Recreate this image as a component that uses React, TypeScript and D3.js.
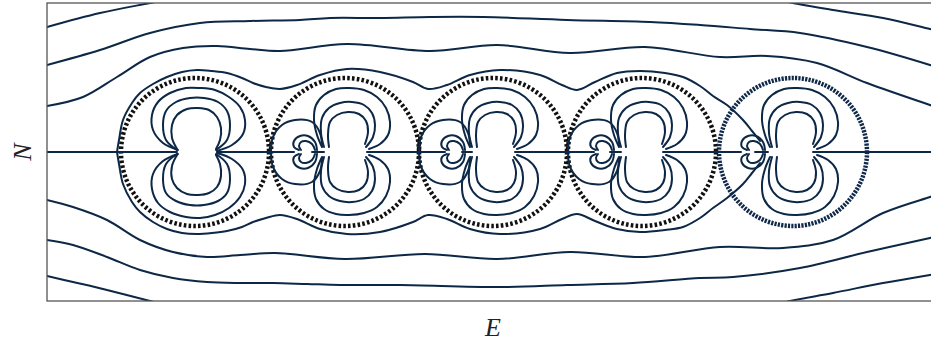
import React from "react";
import * as d3 from "d3";

type Pt = [number, number];

// Sphere centres along the E axis and their radius (same units as E/N)
const sphereCenters = [-298, -148, 0, 149, 300];
const sphereRadius = 74;

// Field lines outside the spheres, [E, N]
const fieldTop1: Pt[] = [[-446, 125], [-393, 139], [-343, 149], [-323, 153]];
const fieldTop2: Pt[] = [
  [-446, 87], [-393, 102], [-343, 119], [-293, 129], [-243, 131], [-193, 132], [-163, 134],
  [-113, 134], [-63, 135], [-10, 135], [74, 132], [157, 130], [207, 127], [257, 123],
  [307, 119], [374, 105], [437, 87], [446, 84],
];
const fieldTop3: Pt[] = [
  [-446, 46], [-410, 55], [-376, 75], [-343, 95], [-310, 104], [-276, 106], [-243, 103],
  [-213, 101], [-146, 108], [-63, 101], [4, 107], [77, 99], [152, 105], [227, 95],
  [274, 96], [324, 89], [374, 69], [437, 47], [446, 44],
];
const separatrixTop: Pt[] = [
  [-376, 0], [-374, 12], [-370, 32], [-361, 49], [-353, 59], [-340, 68], [-326, 75],
  [-311, 80], [-296, 82], [-281, 81], [-266, 79], [-251, 74], [-240, 69], [-227, 65],
  [-213, 63], [-196, 67], [-173, 77], [-146, 83], [-113, 80], [-80, 70], [-65, 63],
  [-46, 67], [-23, 77], [7, 82], [47, 77], [69, 67], [84, 62], [102, 70], [124, 79],
  [147, 81], [172, 79], [190, 75], [207, 66], [220, 56], [234, 47], [250, 32],
  [259, 21], [267, 11],
];
const separatrixBottom: Pt[] = [
  [-376, 0], [-374, -12], [-370, -32], [-361, -50], [-353, -60], [-340, -70], [-326, -77],
  [-311, -81], [-296, -82], [-281, -81], [-266, -79], [-251, -75], [-240, -70], [-227, -66],
  [-213, -63], [-196, -67], [-173, -77], [-146, -82], [-113, -80], [-80, -70], [-65, -63],
  [-46, -67], [-23, -77], [7, -82], [47, -77], [69, -67], [84, -62], [102, -69], [124, -77],
  [147, -80], [172, -78], [190, -75], [207, -66], [220, -56], [234, -46], [250, -32],
  [259, -21], [267, -11],
];
const fieldBottom4: Pt[] = [
  [-446, -48], [-420, -55], [-386, -68], [-353, -88], [-320, -100], [-286, -105],
  [-253, -103], [-218, -101], [-148, -107], [-68, -102], [4, -107], [77, -100],
  [152, -105], [227, -95], [290, -96], [340, -88], [390, -61], [437, -45], [446, -42],
];
const fieldBottom5: Pt[] = [
  [-446, -88], [-420, -93], [-386, -105], [-353, -118], [-320, -126], [-286, -130],
  [-253, -131], [-220, -131], [-186, -132], [-153, -133], [-93, -133], [7, -135],
  [74, -133], [140, -131], [207, -126], [240, -125], [307, -116], [374, -100],
  [437, -86], [446, -84],
];
const fieldBottom6: Pt[] = [[-446, -124], [-420, -130], [-386, -138], [-343, -149], [-328, -153]];
const fieldTopRight: Pt[] = [[287, 152], [300, 149], [340, 142], [390, 134], [437, 123], [446, 121]];
const fieldBottomRight: Pt[] = [[282, -153], [297, -149], [340, -141], [390, -131], [437, -123], [446, -121]];

// Pieces of the N = 0 axis line that are drawn
const axisPieces: Pt[] = [
  [-446, -316], [-276, -199], [-181, -169], [-126, -48], [-31, -21],
  [22, 101], [117, 128], [170, 248], [262, 275], [320, 446],
];

// First sphere: symmetric dipole lobes, [E, N]
const firstInnerUp: Pt[] = [
  [-316, 3], [-321, 14], [-321, 27], [-316, 37], [-306, 43], [-295, 44], [-284, 42],
  [-276, 35], [-272, 24], [-273, 12], [-277, 3],
];
const firstMidUp: Pt[] = [
  [-316, 2], [-327, 12], [-330, 27], [-327, 41], [-317, 50], [-303, 54], [-289, 54],
  [-275, 50], [-266, 41], [-263, 27], [-266, 12], [-277, 2],
];
const firstOuterUp: Pt[] = [
  [-315, 2], [-330, 9], [-340, 22], [-341, 37], [-335, 50], [-323, 59], [-307, 64],
  [-293, 64], [-278, 62], [-264, 55], [-253, 45], [-248, 32], [-250, 18], [-261, 7], [-276, 1],
];
const firstInnerDown: Pt[] = [
  [-316, -3], [-321, -14], [-321, -27], [-316, -36], [-306, -42], [-295, -43], [-284, -41],
  [-276, -35], [-272, -24], [-273, -12], [-277, -3],
];
const firstMidDown: Pt[] = [
  [-316, -2], [-327, -12], [-330, -27], [-327, -41], [-317, -49], [-303, -53], [-289, -53],
  [-275, -49], [-266, -41], [-263, -27], [-266, -12], [-277, -2],
];
const firstOuterDown: Pt[] = [
  [-315, -2], [-330, -9], [-340, -22], [-341, -37], [-335, -51], [-323, -60], [-307, -65],
  [-293, -66], [-278, -63], [-264, -56], [-253, -45], [-248, -32], [-250, -18], [-261, -7], [-276, -1],
];

// Other spheres: lobes relative to the sphere centre, [dE, N]
const lobeOuterUp: Pt[] = [
  [-23, 5], [-28, 17], [-31, 32], [-29, 47], [-21, 57], [-9, 63], [4, 64], [19, 62],
  [32, 55], [41, 44], [45, 30], [43, 17], [35, 8], [24, 3],
];
const lobeMidUp: Pt[] = [
  [-21, 5], [-24, 19], [-23, 34], [-16, 44], [-5, 49], [7, 50], [19, 47], [27, 39],
  [30, 27], [28, 15], [21, 5],
];
const lobeInnerUp: Pt[] = [
  [-16, 5], [-17, 17], [-15, 30], [-8, 37], [3, 40], [14, 38], [21, 31], [23, 20], [20, 8],
];
const lobeOuterDown: Pt[] = [
  [-23, -5], [-28, -17], [-31, -32], [-29, -47], [-21, -57], [-9, -62], [4, -63], [19, -61],
  [32, -55], [41, -44], [45, -30], [43, -17], [35, -8], [24, -3],
];
const lobeMidDown: Pt[] = [
  [-21, -5], [-24, -19], [-23, -34], [-16, -44], [-5, -49], [7, -50], [19, -47], [27, -39],
  [30, -27], [28, -15], [21, -5],
];
const lobeInnerDown: Pt[] = [
  [-16, -5], [-17, -17], [-15, -30], [-8, -37], [3, -40], [14, -38], [21, -31], [23, -20], [20, -8],
];
const leftLoopUp: Pt[] = [[-74, 0], [-72, 15], [-63, 27], [-50, 32], [-33, 30], [-25, 19], [-23, 6]];
const leftLoopDown: Pt[] = [[-74, 0], [-72, -15], [-63, -27], [-50, -32], [-33, -30], [-25, -19], [-23, -6]];
const smallOuterUp: Pt[] = [[-28, 2], [-30, 10], [-37, 16], [-45, 16], [-51, 11], [-51, 5], [-46, 2]];
const smallInnerUp: Pt[] = [[-30, 2], [-33, 8], [-39, 11], [-44, 10], [-46, 6], [-44, 2]];
const smallOuterDown: Pt[] = [[-28, -2], [-30, -10], [-37, -16], [-45, -16], [-51, -11], [-51, -5], [-46, -2]];
const smallInnerDown: Pt[] = [[-30, -2], [-33, -8], [-39, -11], [-44, -10], [-46, -6], [-44, -2]];

const W = 931;
const H = 342;
const LINE = "#0c2846";

export default function App() {
  const x = d3.scaleLinear().domain([-446, 446]).range([47, 939]);
  const y = d3.scaleLinear().domain([-149, 149]).range([301, 3]);
  const line = d3
    .line<Pt>()
    .x((d) => x(d[0]))
    .y((d) => y(d[1]))
    .curve(d3.curveCatmullRom.alpha(0.5));

  const outer = [
    fieldTop1, fieldTop2, fieldTop3, separatrixTop, separatrixBottom,
    fieldBottom4, fieldBottom5, fieldBottom6, fieldTopRight, fieldBottomRight,
    firstInnerUp, firstMidUp, firstOuterUp, firstInnerDown, firstMidDown, firstOuterDown,
  ];

  const shift = (pts: Pt[], c: number): Pt[] => pts.map((p) => [p[0] + c, p[1]] as Pt);
  const sphereLines: Pt[][] = [];
  sphereCenters.slice(1).forEach((c, i) => {
    [lobeOuterUp, lobeMidUp, lobeInnerUp, lobeOuterDown, lobeMidDown, lobeInnerDown,
      smallOuterUp, smallInnerUp, smallOuterDown, smallInnerDown].forEach((l) =>
      sphereLines.push(shift(l, c))
    );
    if (i < 3) {
      sphereLines.push(shift(leftLoopUp, c));
      sphereLines.push(shift(leftLoopDown, c));
    }
  });

  const rPx = x(sphereRadius) - x(0);

  return (
    <div style={{ position: "fixed", left: 0, top: 0, width: W, height: H, background: "#fff" }}>
      <svg width={W} height={H} style={{ display: "block" }}>
        <defs>
          <clipPath id="plotArea">
            <rect x={x(-446)} y={y(149)} width={x(446) - x(-446)} height={y(-149) - y(149)} />
          </clipPath>
        </defs>
        <g clipPath="url(#plotArea)" fill="none" strokeLinecap="round" strokeLinejoin="round">
          {sphereCenters.map((c, i) => (
            <circle
              key={"s" + i}
              cx={x(c)}
              cy={y(0)}
              r={rPx}
              stroke={i === 4 ? "#10294a" : "#111"}
              strokeWidth={4.5}
              strokeDasharray={i === 4 ? "2.2 1.2" : "2.6 2.2"}
              strokeLinecap="butt"
            />
          ))}
          {axisPieces.map((s, i) => (
            <line key={"a" + i} x1={x(s[0])} x2={x(s[1])} y1={y(0)} y2={y(0)} stroke={LINE} strokeWidth={2} />
          ))}
          {outer.map((l, i) => (
            <path key={"o" + i} d={line(l) || ""} stroke={LINE} strokeWidth={2} />
          ))}
          {sphereLines.map((l, i) => (
            <path key={"i" + i} d={line(l) || ""} stroke={LINE} strokeWidth={2} />
          ))}
        </g>
        <rect
          x={x(-446)}
          y={y(149)}
          width={x(446) - x(-446)}
          height={y(-149) - y(149)}
          fill="none"
          stroke="#555"
          strokeWidth={1.3}
        />
        <text
          x={x(0)}
          y={336}
          textAnchor="middle"
          fontFamily="'Liberation Serif', 'DejaVu Serif', serif"
          fontStyle="italic"
          fontSize={26}
          fill="#222"
        >
          E
        </text>
        <text
          transform={`translate(31, ${y(0)}) rotate(-90)`}
          textAnchor="middle"
          fontFamily="'Liberation Serif', 'DejaVu Serif', serif"
          fontStyle="italic"
          fontSize={26}
          fill="#222"
        >
          N
        </text>
      </svg>
    </div>
  );
}
